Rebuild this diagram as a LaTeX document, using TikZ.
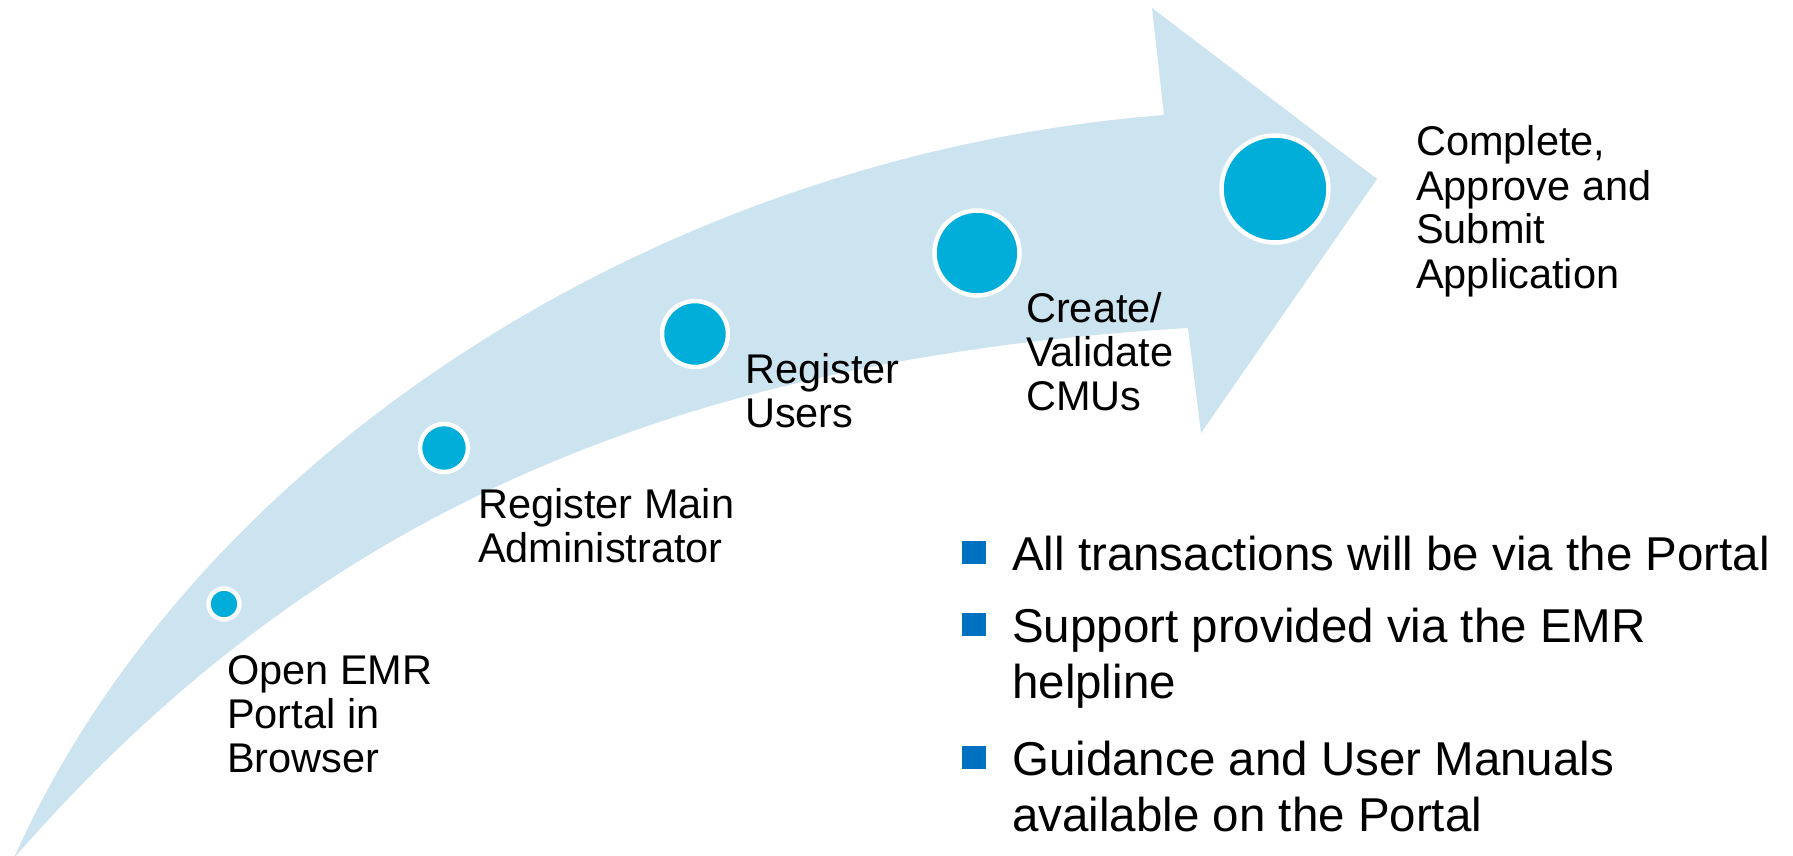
\documentclass[tikz,border=0pt]{standalone}
\usepackage{fontspec}
\setmainfont{Liberation Sans}
\definecolor{arrowfill}{RGB}{204,227,240}
\definecolor{dotblue}{RGB}{0,174,217}
\definecolor{bulletblue}{RGB}{0,112,192}
\begin{document}
\begin{tikzpicture}[x=1pt,y=-1pt,
  dot/.style={circle, fill=dotblue, draw=white, line width=4.5pt, inner sep=0pt},
  lbl/.style={anchor=base west, inner sep=0pt, font=\fontsize{41.5}{44}\selectfont},
  btxt/.style={anchor=base west, inner sep=0pt, font=\fontsize{47.5}{56.5}\selectfont},
  bsq/.style={fill=bulletblue, inner sep=0pt, minimum width=24pt, minimum height=23pt, anchor=north west}]
\useasboundingbox[fill=white] (0,0) rectangle (1793,856);
% curved arrow
\path[fill=arrowfill] (14,858) .. controls (190,462) and (650,156) .. (1164,115)
  -- (1152,8) -- (1377,179) -- (1201,433) -- (1188,328)
  .. controls (650,360) and (300,530) .. (14,858) -- cycle;
% step dots
\node[dot, minimum size=31pt] (c1) at (224,604) {};
\node[dot, minimum size=48pt] (c2) at (444,448) {};
\node[dot, minimum size=66pt] (c3) at (695,334) {};
\node[dot, minimum size=85pt] (c4) at (977,253) {};
\node[dot, minimum size=107pt] (c5) at (1275,189) {};
% step labels
\node[lbl] (l1) at (227,684) {\begin{tabular}[t]{@{}l@{}}Open EMR\\Portal in\\Browser\end{tabular}};
\node[lbl] (l2) at (478,518) {\begin{tabular}[t]{@{}l@{}}Register Main\\Administrator\end{tabular}};
\node[lbl] (l3) at (745,383) {\begin{tabular}[t]{@{}l@{}}Register\\Users\end{tabular}};
\node[lbl] (l4) at (1026,322) {\begin{tabular}[t]{@{}l@{}}Create/\\Validate\\CMUs\end{tabular}};
\node[lbl] (l5) at (1416,156) {\begin{tabular}[t]{@{}l@{}}Complete,\\Approve and\\Submit\\Application\end{tabular}};
% bullet list
\node[bsq] (s1) at (962,541) {};
\node[btxt] (b1) at (1012,570) {All transactions will be via the Portal};
\node[bsq] (s2) at (962,613) {};
\node[btxt] (b2) at (1012,642) {\begin{tabular}[t]{@{}l@{}}Support provided via the EMR\\helpline\end{tabular}};
\node[bsq] (s3) at (962,746) {};
\node[btxt] (b3) at (1012,775) {\begin{tabular}[t]{@{}l@{}}Guidance and User Manuals\\available on the Portal\end{tabular}};
\end{tikzpicture}
\end{document}
